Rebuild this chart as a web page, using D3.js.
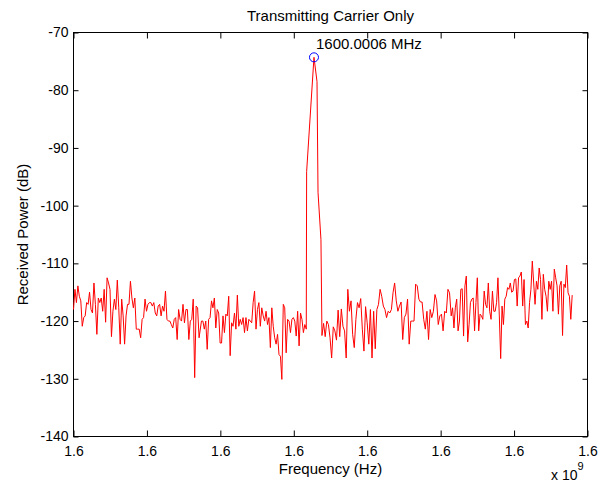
<!DOCTYPE html>
<html>
<head>
<meta charset="utf-8">
<script src="https://cdn.jsdelivr.net/npm/d3@7/dist/d3.min.js"></script>
<style>
  body { margin: 0; background: #fff; }
  svg { display: block; font-family: Arial, "Liberation Sans", sans-serif; }
</style>
</head>
<body>
<svg id="chart" width="600" height="487"></svg>
<script>
// Chart data (frequencies in Hz, power in dB)
var titleText = "Transmitting Carrier Only";
var peakLabel = "1600.0006 MHz";

var xTickValues = [1599998000, 1599998800, 1599999600, 1600000400,
                   1600001200, 1600002000, 1600002800, 1600003600];
var yTickValues = [-70, -80, -90, -100, -110, -120, -130, -140];

// noise floor, four stretches with their first and last frequency
var spanA = [1599998000, 1599999368];
var noiseA = [
  -118.0, -114.5, -116.8, -113.9, -115.7, -116.5, -120.9, -119.4, -119.1, -116.8,
  -117.1, -115.0, -118.0, -118.6, -113.4, -117.1, -122.3, -116.0, -116.8, -116.0,
  -118.3, -114.5, -120.2, -112.5, -113.4, -114.5, -122.7, -118.3, -116.2, -118.0,
  -112.9, -117.7, -124.0, -116.2, -119.1, -124.0, -119.1, -117.1, -117.1, -113.1,
  -116.0, -117.7, -116.0, -121.4, -121.4, -121.4, -122.9, -119.7, -119.4, -116.2,
  -118.3, -117.1, -116.8, -116.8, -117.4, -116.8, -118.6, -119.1, -117.4, -117.1,
  -119.1, -117.4, -118.3, -114.8, -119.7, -120.0, -120.0, -120.6, -121.2, -119.7,
  -119.4, -123.2, -118.0, -119.7, -120.0, -117.1, -120.3, -118.0, -118.0, -123.2,
  -120.0, -119.7, -116.2, -129.8, -117.4, -117.7, -122.9
];

var spanB = [1599999394, 1600000536];
var noiseB = [
  -120.0, -120.0, -121.4, -120.0, -124.9, -119.7, -119.4, -116.5, -117.7, -116.0,
  -121.2, -118.0, -118.6, -123.8, -123.8, -119.1, -122.0, -118.8, -119.1, -115.7,
  -126.0, -120.3, -120.9, -118.6, -121.4, -115.5, -120.9, -119.7, -120.6, -119.4,
  -122.0, -119.4, -121.7, -119.7, -120.0, -120.3, -116.8, -114.8, -121.4, -118.0,
  -116.8, -120.9, -117.7, -119.1, -120.0, -118.3, -120.6, -119.4, -124.6, -117.7,
  -120.9, -122.9, -124.0, -122.3, -125.8, -126.1, -130.1, -117.1, -117.7, -125.5,
  -119.7, -120.0, -122.0, -119.7, -119.4, -120.0, -122.6, -118.3, -124.3, -118.6,
  -119.7, -122.0, -120.6, -121.4
];

// the carrier itself
var carrierFreq = [1600000540, 1600000620, 1600000653, 1600000664, 1600000696];
var carrierDb = [-94.1, -74.3, -78.5, -97.7, -105.9];

var spanC = [1600000707, 1600002097];
var noiseC = [
  -122.5, -120.4, -122.7, -120.0, -120.6, -122.9, -126.4, -121.0, -121.7, -123.3,
  -118.1, -122.7, -117.9, -120.9, -121.7, -126.4, -114.5, -118.3, -116.5, -122.3,
  -124.6, -119.7, -116.8, -117.7, -116.1, -121.4, -125.2, -117.5, -120.3, -124.0,
  -118.0, -126.4, -118.3, -124.8, -118.0, -117.1, -114.5, -115.7, -117.4, -118.0,
  -119.4, -118.3, -118.6, -118.0, -115.1, -113.4, -116.5, -118.3, -117.4, -116.7,
  -123.2, -119.4, -118.8, -116.2, -124.0, -120.0, -120.0, -120.0, -113.6, -113.9,
  -116.2, -116.7, -116.7, -119.7, -121.4, -118.3, -123.2, -118.0, -119.4, -118.3,
  -115.4, -116.5, -120.6, -119.1, -118.8, -121.7, -118.3, -118.6, -114.5, -115.1
];

var spanD = [1600002115, 1600003433];
var noiseD = [
  -119.1, -117.7, -121.2, -117.7, -116.2, -121.7, -120.0, -114.5, -114.4, -122.6,
  -113.9, -112.2, -123.6, -120.6, -116.8, -116.2, -116.0, -121.7, -116.8, -112.5,
  -121.7, -118.8, -119.1, -119.7, -114.8, -117.1, -117.7, -113.4, -118.3, -119.7,
  -114.8, -118.3, -118.3, -116.8, -112.5, -119.1, -126.5, -117.4, -120.6, -116.2,
  -115.7, -114.2, -114.5, -113.4, -115.0, -114.8, -112.8, -112.7, -117.4, -112.5,
  -112.2, -111.5, -117.4, -112.8, -120.6, -120.0, -121.2, -116.8, -114.5, -109.6,
  -113.4, -117.1, -113.1, -114.5, -110.8, -112.8, -119.7, -111.9, -114.5, -115.7,
  -118.3, -113.1, -114.5, -113.1, -118.3, -111.0, -112.5, -113.9, -118.8, -113.9,
  -113.1, -122.5, -113.6, -114.2, -110.3, -115.1, -115.7, -119.7, -115.5
];

var peakIndex = 1;   // index in carrier arrays of the marked maximum

// Layout (plot box edges)
var boxL = 73.5, boxR = 587.5, boxT = 32.5, boxB = 436.5;

var svg = d3.select("#chart");

var x = d3.scaleLinear().domain([xTickValues[0], xTickValues[xTickValues.length - 1]]).range([boxL, boxR]);
var y = d3.scaleLinear().domain([-140, -70]).range([boxB, boxT]);

// Turn a stretch of evenly spaced samples into points
function stretch(span, vals) {
    var step = (span[1] - span[0]) / (vals.length - 1);
    return vals.map(function (v, i) { return [span[0] + i * step, v]; });
}

var points = []
    .concat(stretch(spanA, noiseA))
    .concat(stretch(spanB, noiseB))
    .concat(carrierFreq.map(function (f, i) { return [f, carrierDb[i]]; }))
    .concat(stretch(spanC, noiseC))
    .concat(stretch(spanD, noiseD));

// Axes, MATLAB style: ticks inward on all four sides
var fmtX = function (d) { return d3.format(".1f")(d / 1e9); };
var fmtY = function (d) { return String(d); };   // plain hyphen, like matlab

function styleAxis(g) {
    g.select(".domain").remove();
    g.selectAll(".tick line").attr("stroke", "#000");
    g.selectAll(".tick text")
        .attr("fill", "#000")
        .style("font-size", "14px")
        .style("font-family", "Arial, 'Liberation Sans', sans-serif");
}

svg.append("g")
    .attr("transform", "translate(0," + boxB + ")")
    .call(d3.axisBottom(x).tickValues(xTickValues).tickFormat(fmtX)
        .tickSizeInner(-6).tickSizeOuter(0).tickPadding(10))
    .call(styleAxis);

svg.append("g")
    .attr("transform", "translate(0," + boxT + ")")
    .call(d3.axisTop(x).tickValues(xTickValues).tickFormat("")
        .tickSizeInner(-6).tickSizeOuter(0))
    .call(styleAxis);

svg.append("g")
    .attr("transform", "translate(" + boxL + ",0)")
    .call(d3.axisLeft(y).tickValues(yTickValues).tickFormat(fmtY)
        .tickSizeInner(-5).tickSizeOuter(0).tickPadding(5))
    .call(styleAxis);

svg.append("g")
    .attr("transform", "translate(" + boxR + ",0)")
    .call(d3.axisRight(y).tickValues(yTickValues).tickFormat("")
        .tickSizeInner(-5).tickSizeOuter(0))
    .call(styleAxis);

// box
svg.append("rect")
    .attr("x", boxL).attr("y", boxT)
    .attr("width", boxR - boxL).attr("height", boxB - boxT)
    .attr("fill", "none").attr("stroke", "#000").attr("stroke-width", 1);

// the spectrum
svg.append("path")
    .datum(points)
    .attr("fill", "none")
    .attr("stroke", "#ff0000")
    .attr("stroke-width", 1)
    .attr("d", d3.line()
        .x(function (d) { return x(d[0]); })
        .y(function (d) { return y(d[1]); }));

// peak marker and label
var px = x(carrierFreq[peakIndex]), py = y(carrierDb[peakIndex]);
svg.append("circle")
    .attr("cx", px).attr("cy", py).attr("r", 4.5)
    .attr("fill", "none").attr("stroke", "#0000ff").attr("stroke-width", 1);

svg.append("text")
    .attr("x", px + 2).attr("y", py - 8)
    .style("font-size", "15px")
    .text(peakLabel);

// title and labels
svg.append("text")
    .attr("x", (boxL + boxR) / 2).attr("y", 21)
    .attr("text-anchor", "middle")
    .style("font-size", "15px")
    .text(titleText);

svg.append("text")
    .attr("x", (boxL + boxR) / 2).attr("y", 474)
    .attr("text-anchor", "middle")
    .style("font-size", "15px")
    .text("Frequency (Hz)");

svg.append("text")
    .attr("transform", "translate(28," + (boxT + boxB) / 2 + ") rotate(-90)")
    .attr("text-anchor", "middle")
    .style("font-size", "15px")
    .text("Received Power (dB)");

// axis multiplier
var mult = svg.append("text")
    .attr("x", 551).attr("y", 480)
    .style("font-size", "14px");
mult.append("tspan").text("x 10");
mult.append("tspan").attr("dy", -10).style("font-size", "11px").text("9");
</script>
</body>
</html>
